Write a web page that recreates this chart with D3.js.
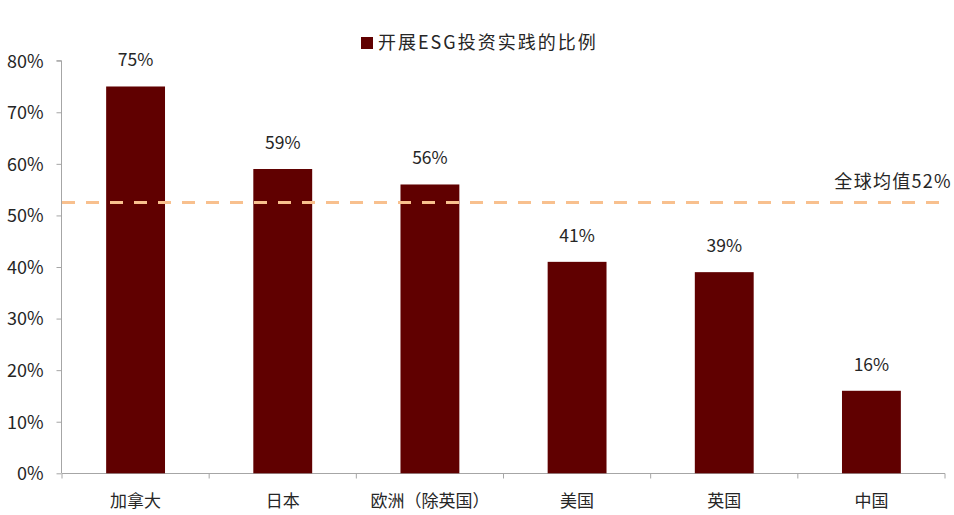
<!DOCTYPE html>
<html><head><meta charset="utf-8">
<script src="https://cdn.jsdelivr.net/npm/d3@7"></script>
<style>body{margin:0;background:#fff}svg{display:block}text{font-family:"Noto Sans CJK SC","Noto Sans",sans-serif;fill:#262626}</style>
</head><body><svg id="c" width="954" height="515"></svg>
<script>
const categories = ["加拿大","日本","欧洲（除英国）","美国","英国","中国"];
const values = [75,59,56,41,39,16];
const yTicks = [0,10,20,30,40,50,60,70,80];
const seriesName = "开展ESG投资实践的比例";
const avgValue = 52.5;
const avgLabel = "全球均值52%";

const svg = d3.select("#c");
const x = d3.scaleBand().domain(categories).range([62,945]).paddingInner(0.6).paddingOuter(0.3);
const y = d3.scaleLinear().domain([0,80]).range([473.3,60.7]);
const barColor = "#600000";

// y axis
const ya = svg.append("g").attr("transform","translate(61.5,0)")
  .call(d3.axisLeft(y).tickValues(yTicks).tickFormat(d=>d+"%").tickSize(5).tickPadding(13));
ya.select(".domain").attr("stroke","#a6a6a6").attr("d","M-5,60.7H0V473.3");
ya.selectAll(".tick line").attr("stroke","#a6a6a6");
ya.selectAll(".tick text").style("font-size","18px").attr("fill","#262626").attr("dy","0.35em");

// x axis
const xa = svg.append("g").attr("transform","translate(0,473.5)")
  .call(d3.axisBottom(x).tickSize(0).tickPadding(21));
xa.select(".domain").attr("stroke","#a6a6a6").attr("d","M62,0H945");
xa.selectAll(".tick text").style("font-size","17px").attr("fill","#262626");
const bounds = d3.range(categories.length+1).map(i=>62+i*(883/categories.length));
xa.selectAll(".sep").data(bounds).enter().append("line").attr("class","sep")
  .attr("x1",d=>d).attr("x2",d=>d).attr("y1",0).attr("y2",5).attr("stroke","#a6a6a6");

// bars
svg.append("g").selectAll("rect").data(values).enter().append("rect")
  .attr("x",(d,i)=>x(categories[i])).attr("width",x.bandwidth())
  .attr("y",d=>y(d)).attr("height",d=>y(0)-y(d)).attr("fill",barColor);

// value labels
svg.append("g").selectAll("text").data(values).enter().append("text")
  .attr("x",(d,i)=>x(categories[i])+x.bandwidth()/2).attr("y",d=>y(d)-20)
  .attr("text-anchor","middle").style("font-size","17.5px").text(d=>d+"%");

// average line
svg.append("line").attr("x1",62).attr("x2",946).attr("y1",y(avgValue)).attr("y2",y(avgValue))
  .attr("stroke","#f8c08e").attr("stroke-width",3).attr("stroke-dasharray","13,11");
svg.append("text").attr("x",952).attr("y",y(avgValue)-15).attr("text-anchor","end")
  .style("font-size","18px").style("letter-spacing","1.3px").text(avgLabel);

// legend
svg.append("rect").attr("x",361).attr("y",37).attr("width",12).attr("height",12).attr("fill",barColor);
svg.append("text").attr("x",378).attr("y",43).attr("dy","0.35em").style("font-size","18px").style("letter-spacing","2px").text(seriesName);
</script></body></html>
